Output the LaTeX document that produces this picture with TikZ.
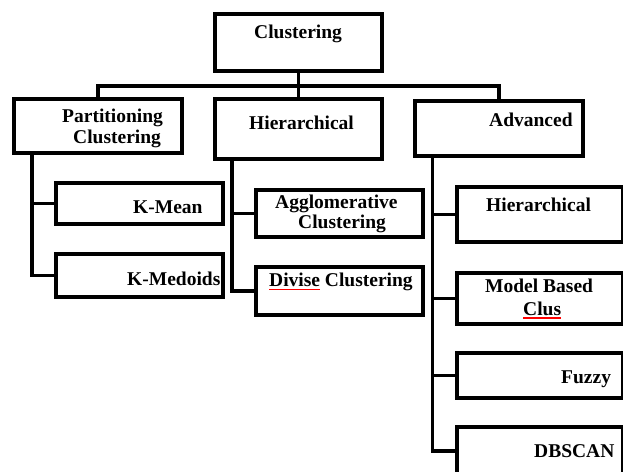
\documentclass[tikz,border=0pt]{standalone}
\usepackage{fontspec}
\setmainfont{Liberation Serif}
\newsavebox\ulsave
\newcommand\redul[2]{\sbox\ulsave{#2}\rlap{\textcolor{red}{\rule[-#1]{\wd\ulsave}{1.6pt}}}\usebox\ulsave}
\begin{document}
\begin{tikzpicture}[x=1pt,y=-1pt,
  box/.style={draw, line width=3.2pt, inner sep=0pt, minimum width=167pt},
  lbl/.style={anchor=base west, inner sep=0pt, font=\fontsize{19.5}{22}\selectfont\bfseries},
  conn/.style={line width=3.2pt}]
\useasboundingbox (0,0) rectangle (623,471);
\clip (0,0) rectangle (623,471);
\fill[white] (0,0) rectangle (623,471);
% boxes
\node[box, minimum height=57pt] (root)   at (298.5,42.5) {};
\node[box, minimum height=54pt, minimum width=168pt] (part) at (98,126) {};
\node[box, minimum height=60pt] (hier)   at (298.5,129) {};
\node[box, minimum height=55pt, minimum width=168pt] (adv) at (499,128.5) {};
\node[box, minimum height=41pt] (kmean)  at (139.5,203.5) {};
\node[box, minimum height=43pt] (kmed)   at (139.5,275.5) {};
\node[box, minimum height=47pt] (aggl)   at (339.5,213.5) {};
\node[box, minimum height=48pt] (div)    at (339.5,291) {};
\node[box, minimum height=55pt, minimum width=166pt] (ahier)  at (540,214.5) {};
\node[box, minimum height=51pt, minimum width=166pt] (model)  at (540,298.5) {};
\node[box, minimum height=45pt, minimum width=166pt] (fuzzy)  at (540,375.5) {};
\node[box, minimum height=48pt, minimum width=166pt] (dbscan) at (540,451) {};
% labels
\node[lbl] (tRoot) at (254,38) {Clustering};
\node[lbl] (tPart1) at (62,122.5) {Partitioning};
\node[lbl] (tPart2) at (73,143) {Clustering};
\node[lbl] (tHier) at (249,129) {Hierarchical};
\node[lbl] (tAdv) at (489,126.5) {Advanced};
\node[lbl] (tKmean) at (133,213) {K-Mean};
\node[lbl] (tKmed) at (127,285) {K-Medoids};
\node[lbl] (tAggl1) at (275,208) {Agglomerative};
\node[lbl] (tAggl2) at (298,228) {Clustering};
\node[lbl] (tDiv) at (269,286.5) {\redul{3.8pt}{Divise}\ Clustering};
\node[lbl] (tAhier) at (486,211.5) {Hierarchical};
\node[lbl] (tModel1) at (485,292) {Model Based};
\node[lbl] (tModel2) at (523,315) {\redul{4pt}{Clus}};
\node[lbl] (tFuzzy) at (561,383) {Fuzzy};
\node[lbl] (tDb) at (534,457) {DBSCAN};
% connectors
\coordinate (bus) at (0,86);
\draw[conn] (root.south) -- (hier.north);
\draw[conn] (part.north) |- (bus -| adv.north) -- (adv.north);
\coordinate (ptrunk) at (32,153);
\draw[conn] (ptrunk) |- (kmed.west);
\draw[conn] (ptrunk |- kmean.west) -- (kmean.west);
\coordinate (htrunk) at (232,159);
\draw[conn] (htrunk) |- (div.west);
\draw[conn] (htrunk |- aggl.west) -- (aggl.west);
\coordinate (atrunk) at (432.5,156);
\draw[conn] (atrunk) |- (dbscan.west);
\draw[conn] (atrunk |- ahier.west) -- (ahier.west);
\draw[conn] (atrunk |- model.west) -- (model.west);
\draw[conn] (atrunk |- fuzzy.west) -- (fuzzy.west);
\end{tikzpicture}
\end{document}
